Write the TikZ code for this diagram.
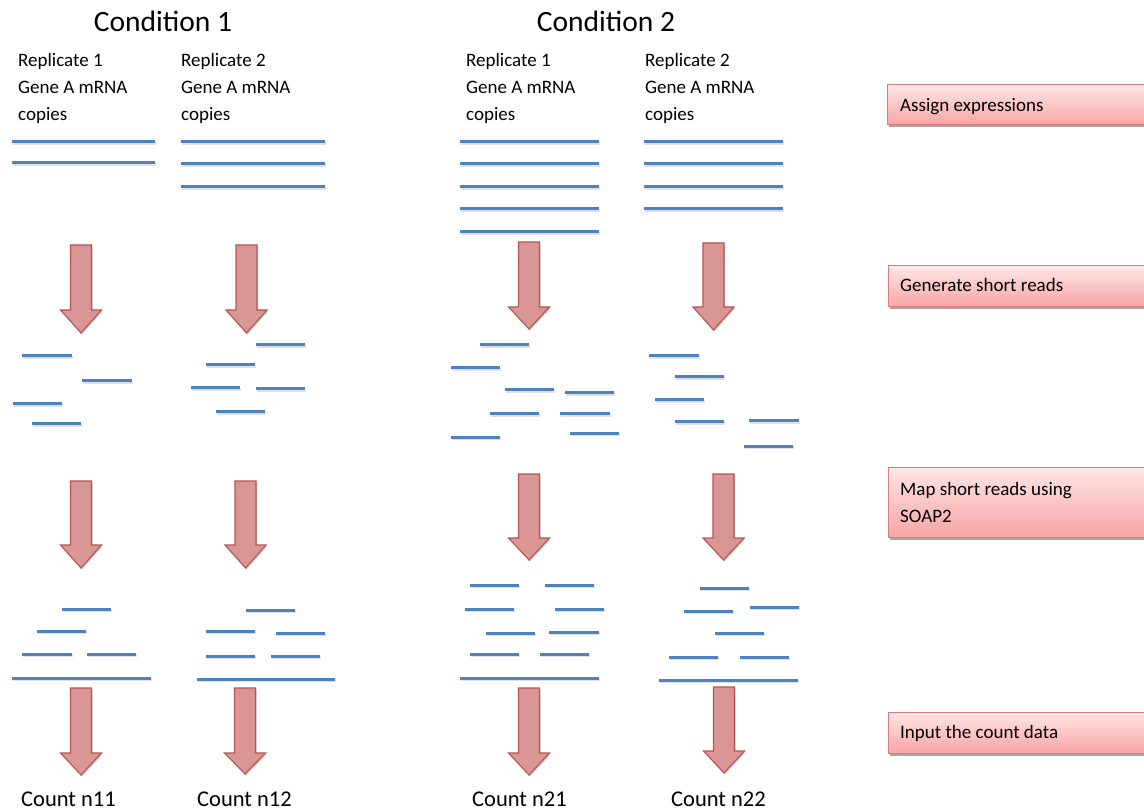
\documentclass[tikz,border=0pt]{standalone}
\usepackage{fontspec}
\setmainfont{Carlito}
\usetikzlibrary{shadows}
\definecolor{readblue}{HTML}{4F81BD}
\definecolor{arrfill}{HTML}{D99694}
\definecolor{arrdraw}{HTML}{B65552}
\definecolor{boxtop}{HTML}{FFE6E6}
\definecolor{boxbot}{HTML}{F8A4A4}
\definecolor{boxdraw}{HTML}{DC7C7C}
\tikzset{
  read/.style={readblue, line width=3pt, preaction={draw=black!12, line width=3.4pt, transform canvas={xshift=0.6pt, yshift=-1.4pt}}},
  arrowstyle/.style={fill=arrfill, draw=arrdraw, line width=1.1pt, line join=miter, drop shadow={shadow xshift=1pt, shadow yshift=-1.5pt, opacity=0.2, fill=black}},
  stepbox/.style={top color=boxtop, bottom color=boxbot, draw=boxdraw, line width=1pt, drop shadow={shadow xshift=1.5pt, shadow yshift=-2.5pt, opacity=0.35, fill=black}},
  cond/.style={anchor=base, font=\fontsize{29.5}{34}\selectfont, inner sep=0pt},
  lbl/.style={anchor=base west, font=\fontsize{19}{27}\selectfont, inner sep=0pt},
  cnt/.style={anchor=base west, font=\fontsize{22.5}{27}\selectfont, inner sep=0pt},
  boxtext/.style={anchor=base west, font=\fontsize{19}{27}\selectfont, inner sep=0pt},
}
\newcommand\blkarrow[4]{\draw[arrowstyle] ({#1-10.5},#2) -- ({#1+10.5},#2) -- ({#1+10.5},#3) -- ({#1+20.5},#3) -- (#1,#4) -- ({#1-20.5},#3) -- ({#1-10.5},#3) -- cycle;}
\newcommand\rd[3]{\draw[read] (#1,#3) -- (#2,#3);}
\begin{document}
\begin{tikzpicture}[x=1pt,y=-1pt]
\useasboundingbox (0,0) rectangle (1144,810);
\clip (0,0) rectangle (1144,810);
\fill[white] (0,0) rectangle (1144,810);
% headers
\node[cond] (c1) at (163,32) {Condition 1};
\node[cond] (c2) at (606,32) {Condition 2};
% replicate labels
\foreach \x/\r/\n in {18/1/a, 181/2/b, 466/1/c, 645/2/d}{
  \node[lbl] (rep\n) at (\x,67) {Replicate \r};
  \node[lbl] (gene\n) at (\x,94) {Gene A mRNA};
  \node[lbl] (cop\n) at (\x,121) {copies};
}
% mRNA copies
\foreach \y in {142,163} {\rd{12}{155}{\y}}
\foreach \y in {142,164,187} {\rd{181}{325}{\y}}
\foreach \y in {142,164,187,209,232} {\rd{460}{599}{\y}}
\foreach \y in {142,164,187,209} {\rd{644}{783}{\y}}
% arrows row 1
\blkarrow{81}{245}{310}{333}
\blkarrow{246.5}{245}{310}{333}
\blkarrow{529}{242}{307}{329}
\blkarrow{713.5}{243}{307}{330}
% short reads
\rd{22}{72}{356} \rd{82}{132}{381} \rd{13}{62}{404} \rd{32}{81}{424}
\rd{256}{305}{345} \rd{206}{255}{365} \rd{191}{240}{388} \rd{256}{305}{389} \rd{216}{265}{412}
\rd{480}{529}{345} \rd{451}{500}{368} \rd{505}{554}{390} \rd{565}{614}{393}
\rd{490}{539}{414} \rd{560}{610}{414} \rd{570}{619}{433} \rd{451}{500}{437}
\rd{649}{699}{356} \rd{675}{724}{377} \rd{655}{704}{400} \rd{675}{724}{422}
\rd{749}{799}{421} \rd{744}{793}{446}
% arrows row 2
\blkarrow{81}{481}{545}{568}
\blkarrow{245.5}{481}{545}{568}
\blkarrow{529}{474}{538}{560}
\blkarrow{723.5}{474}{538}{560}
% mapped reads
\rd{62}{111}{609} \rd{37}{86}{631} \rd{22}{72}{654} \rd{87}{136}{654} \rd{12}{151}{678}
\rd{246}{295}{610} \rd{206}{255}{631} \rd{276}{325}{633} \rd{206}{255}{656} \rd{271}{320}{656} \rd{197}{335}{679}
\rd{470}{519}{585} \rd{545}{594}{585} \rd{465}{514}{609} \rd{555}{604}{609}
\rd{486}{535}{633} \rd{549}{599}{632} \rd{470}{519}{654} \rd{540}{589}{654} \rd{460}{599}{678}
\rd{700}{749}{588} \rd{684}{733}{611} \rd{750}{799}{607} \rd{715}{764}{633}
\rd{669}{718}{657} \rd{740}{789}{657} \rd{659}{798}{680}
% arrows row 3
\blkarrow{81}{688}{753}{775}
\blkarrow{245}{688}{753}{774}
\blkarrow{529}{688}{753}{775}
\blkarrow{724}{687}{751}{773}
% counts
\node[cnt] (n11) at (21,806) {Count n11};
\node[cnt] (n12) at (197,806) {Count n12};
\node[cnt] (n21) at (472,806) {Count n21};
\node[cnt] (n22) at (671,806) {Count n22};
% right step boxes
\path[stepbox] (887,85) rectangle (1160,125);
\node[boxtext] (s1) at (900,112) {Assign expressions};
\path[stepbox] (888,266) rectangle (1160,307);
\node[boxtext] (s2) at (900,292) {Generate short reads};
\path[stepbox] (888,467) rectangle (1160,537);
\node[boxtext] (s3a) at (900,495) {Map short reads using};
\node[boxtext] (s3b) at (900,522) {SOAP2};
\path[stepbox] (888,712) rectangle (1160,753);
\node[boxtext] (s4) at (900,738) {Input the count data};
\end{tikzpicture}
\end{document}
